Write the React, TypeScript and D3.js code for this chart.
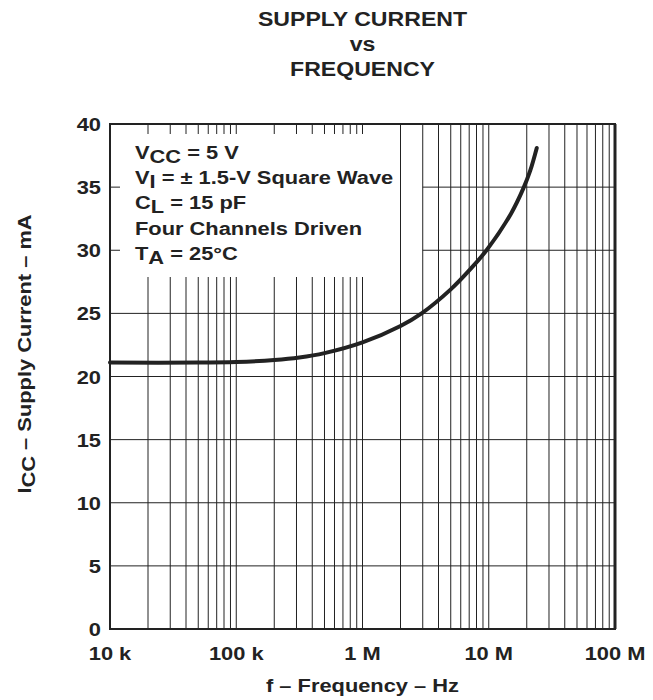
import React from "react";
import * as d3 from "d3";

const freqHz = [1e4, 5e4, 1e5, 2e5, 3.16e5, 5e5, 1e6, 2e6, 2.94e6, 5e6, 7e6, 9.6e6, 1.5e7, 1.88e7, 2.13e7, 2.4e7];
const currentMa = [21.1, 21.1, 21.15, 21.3, 21.5, 21.85, 22.7, 24.0, 25.0, 26.9, 28.4, 30.0, 32.9, 34.9, 36.3, 38.1];
const yTicks = [0, 5, 10, 15, 20, 25, 30, 35, 40];
const xTickValues = [1e4, 1e5, 1e6, 1e7, 1e8];
const xTickLabels = ["10 k", "100 k", "1 M", "10 M", "100 M"];
const titleLines = ["SUPPLY CURRENT", "vs", "FREQUENCY"];

const W = 653, H = 700;
const L = 110, R = 615, T = 124, B = 629;
const FONT = "'Liberation Sans', Arial, Helvetica, sans-serif";
const INK = "#222";

function Txt({ x, y, anchor = "start", size = 19, sx = 1.15, rotate = 0, children }: any) {
  return (
    <g transform={`translate(${x},${y}) rotate(${rotate}) scale(${sx},1)`}>
      <text x={0} y={0} textAnchor={anchor} fontSize={size} fill={INK}>{children}</text>
    </g>
  );
}

export default function App() {
  const x = d3.scaleLog().domain([1e4, 1e8]).range([L, R]);
  const y = d3.scaleLinear().domain([0, 40]).range([B, T]);

  const vGrid: number[] = [];
  for (let e = 4; e < 8; e++) {
    for (let m = 1; m <= 9; m++) {
      const v = m * Math.pow(10, e);
      if (v > 1e4) vGrid.push(v);
    }
  }
  const boxL = 120, boxR = 398, boxT = 134, boxB = 277;

  const line = d3.line<number>()
    .x((_, i) => x(freqHz[i]))
    .y((d) => y(d))
    .curve(d3.curveCatmullRom.alpha(0.5));

  const cx = (L + R) / 2;

  return (
    <svg width={W} height={H} style={{ display: "block", position: "absolute", left: 0, top: 0 }} fontFamily={FONT} fontWeight="bold">
      <rect width={W} height={H} fill="#fff" />
      {titleLines.map((t, i) => (
        <Txt key={t} x={cx} y={26 + i * 25} anchor="middle" size={21} sx={1.1}>{t}</Txt>
      ))}
      {vGrid.map((v) => {
        const px = x(v);
        const inBox = px > boxL && px < boxR;
        return inBox ? (
          <g key={v}>
            <line x1={px} x2={px} y1={T} y2={boxT} stroke={INK} strokeWidth={1} />
            <line x1={px} x2={px} y1={boxB} y2={B} stroke={INK} strokeWidth={1} />
          </g>
        ) : (
          <line key={v} x1={px} x2={px} y1={T} y2={B} stroke={INK} strokeWidth={1} />
        );
      })}
      {yTicks.filter((t) => t > 0 && t < 40).map((t) => {
        const py = y(t);
        const inBox = py > boxT && py < boxB;
        return inBox ? (
          <g key={t}>
            <line x1={L} x2={boxL} y1={py} y2={py} stroke={INK} strokeWidth={1} />
            <line x1={x(3e6)} x2={R} y1={py} y2={py} stroke={INK} strokeWidth={1} />
          </g>
        ) : (
          <line key={t} x1={L} x2={R} y1={py} y2={py} stroke={INK} strokeWidth={1} />
        );
      })}
      <rect x={L} y={T} width={R - L} height={B - T} fill="none" stroke={INK} strokeWidth={2} />
      <line x1={R} x2={R} y1={T} y2={B} stroke={INK} strokeWidth={3} />
      <path d={line(currentMa) || ""} fill="none" stroke={INK} strokeWidth={4} strokeLinecap="round" />
      {yTicks.map((t) => (
        <Txt key={t} x={101} y={y(t) + 7} anchor="end">{t}</Txt>
      ))}
      {xTickValues.map((v, i) => (
        <Txt key={v} x={x(v)} y={660} anchor="middle">{xTickLabels[i]}</Txt>
      ))}
      <Txt x={cx} y={692} anchor="middle">f – Frequency – Hz</Txt>
      <Txt x={31} y={354} anchor="middle" rotate={-90}>
        I<tspan dy={4}>CC</tspan><tspan dy={-4}> – Supply Current – mA</tspan>
      </Txt>
      <Txt x={135} y={159}>V<tspan dy={4}>CC</tspan><tspan dy={-4}> = 5 V</tspan></Txt>
      <Txt x={135} y={184}>V<tspan dy={4}>I</tspan><tspan dy={-4}> = ± 1.5-V Square Wave</tspan></Txt>
      <Txt x={135} y={209}>C<tspan dy={4}>L</tspan><tspan dy={-4}> = 15 pF</tspan></Txt>
      <Txt x={135} y={235}>Four Channels Driven</Txt>
      <Txt x={135} y={260}>T<tspan dy={4}>A</tspan><tspan dy={-4}> = 25°C</tspan></Txt>
    </svg>
  );
}
